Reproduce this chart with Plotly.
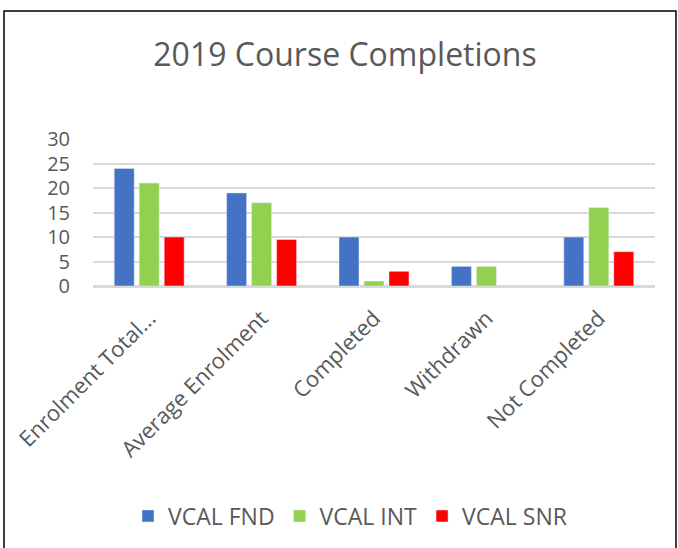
import plotly.graph_objects as go

categories = ["Enrolment Total...", "Average Enrolment", "Completed", "Withdrawn", "Not Completed"]
vcal_fnd = [24, 19, 10, 4, 10]
vcal_int = [21, 17, 1, 4, 16]
vcal_snr = [10, 9.5, 3, None, 7]
y_ticks = [0, 5, 10, 15, 20, 25, 30]

W, H = 678, 548
L, R, T, B = 93, 23, 139, 262
pw, ph = W - L - R, H - T - B

def px_x(p):
    return (p - L) / pw

def px_y(p):
    return (H - B - p) / ph

fig = go.Figure()
fig.add_trace(go.Bar(name="VCAL FND", x=categories, y=vcal_fnd, marker_color="#4472C4"))
fig.add_trace(go.Bar(name="VCAL INT", x=categories, y=vcal_int, marker_color="#92D050"))
fig.add_trace(go.Bar(name="VCAL SNR", x=categories, y=vcal_snr, marker_color="#FF0000"))

font_family = "Open Sans, Liberation Sans, sans-serif"
grey = "#595959"
fig.update_layout(
    width=W, height=H,
    margin=dict(l=L, r=R, t=T, b=B, pad=0, autoexpand=False),
    paper_bgcolor="white", plot_bgcolor="white",
    barmode="group", bargap=0.333, bargroupgap=0.2,
    title=dict(text="2019 Course Completions", x=345 / W, xref="container", xanchor="center",
               y=1 - 55 / H, yanchor="middle",
               font=dict(family=font_family, size=32, color=grey)),
    font=dict(family=font_family, size=20, color=grey),
    showlegend=True,
    legend=dict(orientation="h", x=350 / W, xanchor="center", xref="container", y=1 - 516 / H, yref="container", yanchor="middle",
                font=dict(family=font_family, size=23, color=grey), itemwidth=30, traceorder="normal"),
    xaxis=dict(tickangle=-45, showgrid=False, showline=True, linecolor="#d9d9d9", linewidth=1.5,
               automargin=False,
               ticks="", ticklabelstandoff=9, tickfont=dict(family=font_family, size=22, color=grey)),
    yaxis=dict(range=[0, 30], tickvals=y_ticks, showgrid=True, gridcolor="#d9d9d9", gridwidth=1.5,
               automargin=False,
               zeroline=True, zerolinecolor="#d9d9d9", zerolinewidth=1.5, showline=False, ticks="",
               ticklabelstandoff=22,
               tickfont=dict(family=font_family, size=20, color=grey)),
    shapes=[dict(type="rect", xref="paper", yref="paper",
                 x0=px_x(4), x1=px_x(676), y0=px_y(552), y1=px_y(11),
                 line=dict(color="black", width=1.5), fillcolor="rgba(0,0,0,0)", layer="above")],
)

fig.write_html("out.html", config={"displayModeBar": False},
               post_script="document.body.style.margin='0';document.body.style.overflow='hidden';")
